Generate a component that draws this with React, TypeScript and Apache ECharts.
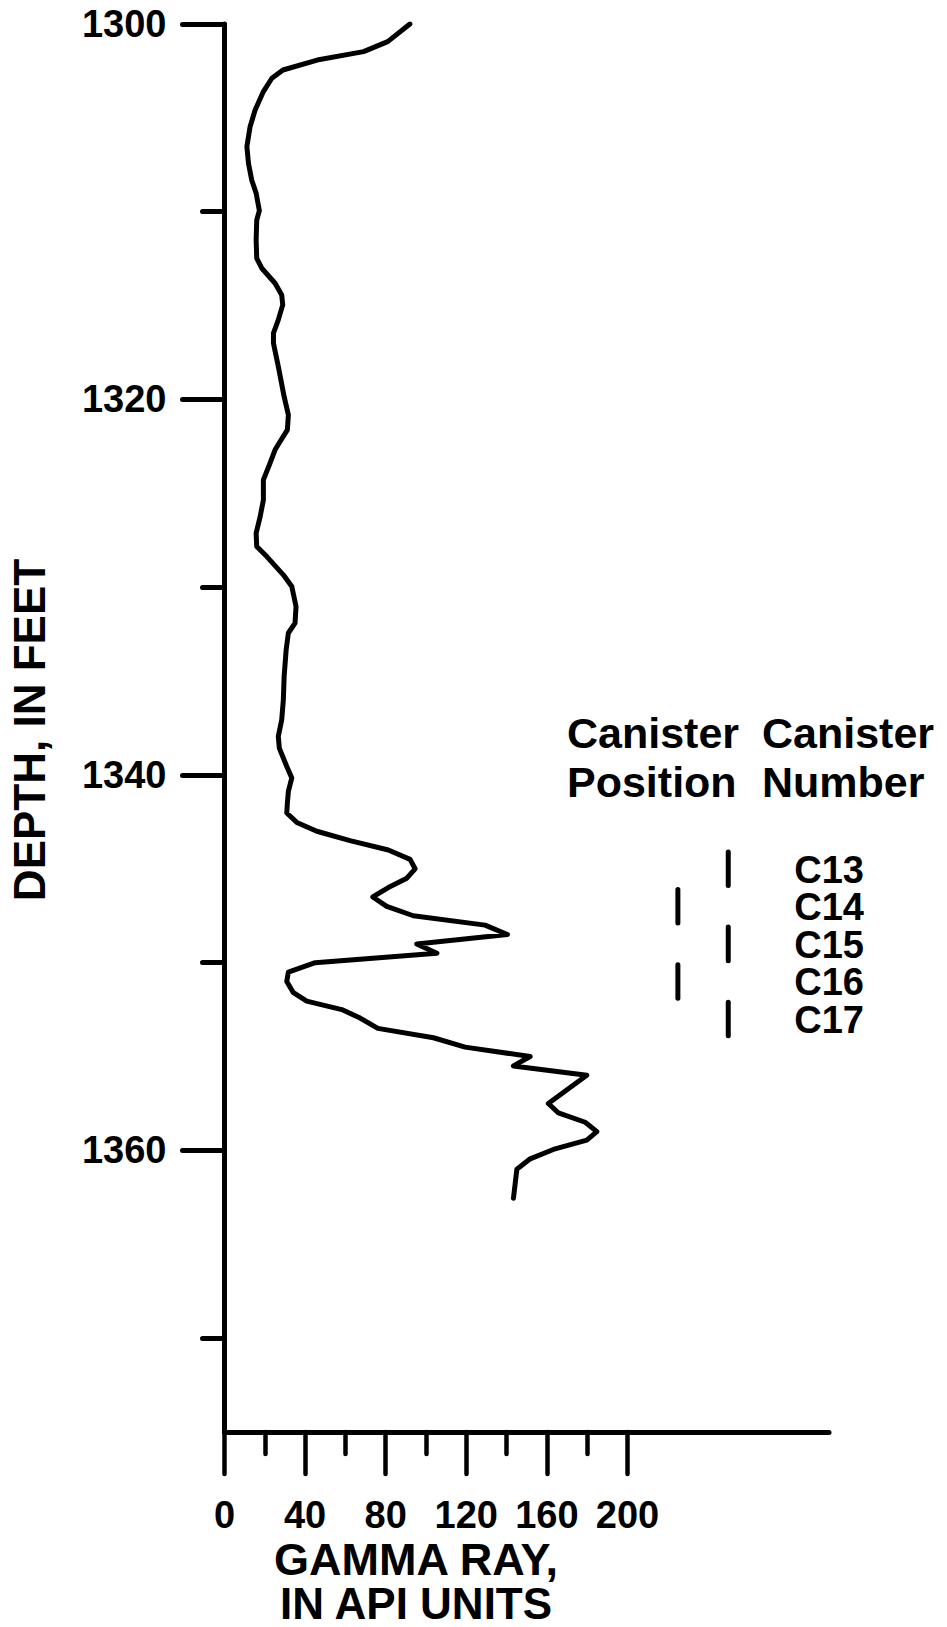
import React, { useEffect, useRef } from "react";
import * as echarts from "echarts";

// ---- Data ----
const gammaRay: number[] = [
  92, 81, 69, 46, 29, 23.5, 19.3, 15.2, 12.7, 11.1, 11.9, 13.5, 15.7, 17.3, 16.0, 15.7, 16.0,
  18.5, 25.1, 28.4, 28.9, 26.7, 24.3, 24.3, 26.7, 29.6, 31.7, 31.2, 27.6, 25.1, 22.6, 19.3,
  19.3, 17.7, 15.7, 16.0, 21.0, 29.2, 33.4, 35.5, 35.0, 31.7, 30.6, 29.6, 29.2, 28.4, 26.7,
  27.2, 30.9, 33.4, 31.7, 31.2, 30.9, 35.9, 45.8, 62.3, 81.3, 92.1, 94.6, 90.5, 81.3, 73.6,
  80.5, 93.7, 129.3, 140.4, 95.4, 105.4, 45.0, 31.7, 30.9, 34.2, 40.8, 58.2, 67.3, 76.1,
  103.7, 119.4, 151.7, 143.4, 179.8, 160.7, 165.7, 179.0, 184.8, 179.8, 163.2, 151.7, 145.1,
  143.4,
];
const depthFeet: number[] = [
  1300.0, 1300.94, 1301.47, 1301.92, 1302.45, 1302.89, 1303.6, 1304.58, 1305.47, 1306.53,
  1307.42, 1308.31, 1309.01, 1309.94, 1310.44, 1311.5, 1312.48, 1313.01, 1313.81, 1314.43,
  1314.96, 1315.76, 1316.47, 1317.0, 1318.25, 1319.85, 1320.82, 1321.62, 1322.24, 1322.68,
  1323.39, 1324.28, 1325.35, 1326.24, 1327.12, 1327.83, 1328.37, 1329.34, 1329.96, 1331.03,
  1331.91, 1332.44, 1333.33, 1334.75, 1336.0, 1337.06, 1337.95, 1338.57, 1339.55, 1340.16,
  1340.88, 1341.5, 1342.03, 1342.53, 1343.0, 1343.5, 1344.0, 1344.5, 1345.0, 1345.5, 1346.0,
  1346.5, 1347.0, 1347.5, 1348.0, 1348.5, 1349.0, 1349.5, 1350.0, 1350.5, 1351.0, 1351.6,
  1352.05, 1352.5, 1352.95, 1353.5, 1354.0, 1354.5, 1355.0, 1355.5, 1356.0, 1357.5, 1358.0,
  1358.5, 1359.0, 1359.45, 1359.95, 1360.45, 1361.0, 1362.55,
];

const canisterNames: string[] = ["C13", "C14", "C15", "C16", "C17"];
const canisterTop: number[] = [1344, 1346, 1348, 1350, 1352];
const canisterBottom: number[] = [1346, 1348, 1350, 1352, 1354];
const canisterPosition: number[] = [250, 225, 250, 225, 250];

const depthMajorTicks: number[] = [1300, 1320, 1340, 1360];
const depthMinorTicks: number[] = [1310, 1330, 1350, 1370];
const gammaMajorTicks: number[] = [0, 40, 80, 120, 160, 200];
const gammaMinorTicks: number[] = [20, 60, 100, 140, 180];

const DEPTH_MIN = 1300;
const DEPTH_MAX = 1375;
const GAMMA_MIN = 0;
const GAMMA_MAX = 300;

const FONT = "'Liberation Sans', Arial, Helvetica, sans-serif";

export default function App() {
  const ref = useRef<HTMLDivElement>(null);

  useEffect(() => {
    if (!ref.current) return;
    const chart = echarts.init(ref.current, undefined, { renderer: "svg" });

    const curve = gammaRay.map((g, i) => [g, depthFeet[i]]);
    const canisters = canisterNames.map((n, i) => [
      canisterPosition[i],
      canisterTop[i],
      canisterBottom[i],
    ]);

    const labelMarkX = Math.max(...canisterPosition);

    const headerStyle = (text: string) => ({
      text,
      fill: "#000",
      font: `bold 43px ${FONT}`,
      textAlign: "left",
      textVerticalAlign: "middle",
      lineHeight: 40,
    });

    const option: any = {
      animation: false,
      backgroundColor: "#ffffff",
      grid: { left: 224.5, top: 24, width: 604.5, height: 1408, containLabel: false },
      xAxis: [
        {
          type: "value",
          position: "bottom",
          min: GAMMA_MIN,
          max: GAMMA_MAX,
          interval: 20,
          axisLine: { show: true, lineStyle: { color: "#000", width: 5, cap: "round" } },
          axisTick: {
            show: true,
            customValues: gammaMajorTicks,
            length: 42,
            lineStyle: { color: "#000", width: 4.5, cap: "round" },
          },
          axisLabel: {
            show: true,
            customValues: gammaMajorTicks,
            formatter: (v: number) => String(v),
            margin: 68,
            lineHeight: 30,
            color: "#000",
            fontFamily: FONT,
            fontWeight: "bold",
            fontSize: 38,
          },
          splitLine: { show: false },
        },
        {
          type: "value",
          position: "bottom",
          min: GAMMA_MIN,
          max: GAMMA_MAX,
          interval: 20,
          axisLine: { show: false },
          axisTick: {
            show: true,
            customValues: gammaMinorTicks,
            length: 22,
            lineStyle: { color: "#000", width: 4.5, cap: "round" },
          },
          axisLabel: { show: false },
          splitLine: { show: false },
        },
      ],
      yAxis: [
        {
          type: "value",
          position: "left",
          inverse: true,
          min: DEPTH_MIN,
          max: DEPTH_MAX,
          interval: 20,
          axisLine: { show: true, lineStyle: { color: "#000", width: 5, cap: "round" } },
          axisTick: {
            show: true,
            customValues: depthMajorTicks,
            length: 42,
            lineStyle: { color: "#000", width: 5, cap: "round" },
          },
          axisLabel: {
            show: true,
            customValues: depthMajorTicks,
            formatter: (v: number) => String(v),
            margin: 58,
            color: "#000",
            fontFamily: FONT,
            fontWeight: "bold",
            fontSize: 38,
          },
          splitLine: { show: false },
        },
        {
          type: "value",
          position: "left",
          inverse: true,
          min: DEPTH_MIN,
          max: DEPTH_MAX,
          interval: 10,
          axisLine: { show: false },
          axisTick: {
            show: true,
            customValues: depthMinorTicks,
            length: 22,
            lineStyle: { color: "#000", width: 5, cap: "round" },
          },
          axisLabel: { show: false },
          splitLine: { show: false },
        },
      ],
      series: [
        {
          type: "line",
          xAxisIndex: 0,
          yAxisIndex: 0,
          data: curve,
          showSymbol: false,
          symbol: "none",
          smooth: false,
          lineStyle: { color: "#000", width: 5, cap: "round", join: "round" },
          z: 5,
        },
        {
          type: "custom",
          xAxisIndex: 0,
          yAxisIndex: 0,
          data: canisters,
          renderItem: (params: any, api: any) => {
            const x = api.value(0);
            const p0 = api.coord([x, api.value(1)]);
            const p1 = api.coord([x, api.value(2)]);
            const mid = api.coord([labelMarkX, (api.value(1) + api.value(2)) / 2]);
            const name = canisterNames[params.dataIndex];
            return {
              type: "group",
              children: [
                {
                  type: "line",
                  shape: { x1: p0[0], y1: p0[1] + 2, x2: p1[0], y2: p1[1] - 2 },
                  style: { stroke: "#000", lineWidth: 5, lineCap: "round" },
                },
                {
                  type: "text",
                  x: mid[0] + 66,
                  y: mid[1] + 1,
                  style: {
                    text: name,
                    fill: "#000",
                    font: `bold 38px ${FONT}`,
                    textAlign: "left",
                    textVerticalAlign: "middle",
                    lineHeight: 30,
                  },
                },
              ],
            };
          },
          z: 5,
        },
      ],
      graphic: [
        {
          type: "text",
          x: 29,
          y: 730,
          rotation: Math.PI / 2,
          style: {
            text: "DEPTH, IN FEET",
            fill: "#000",
            font: `bold 44px ${FONT}`,
            textAlign: "center",
            textVerticalAlign: "middle",
            lineHeight: 40,
          },
        },
        {
          type: "text",
          x: 416,
          y: 1559,
          style: {
            text: "GAMMA RAY,",
            fill: "#000",
            font: `bold 45px ${FONT}`,
            textAlign: "center",
            textVerticalAlign: "middle",
            lineHeight: 34,
          },
        },
        {
          type: "text",
          x: 416,
          y: 1603,
          style: {
            text: "IN API UNITS",
            fill: "#000",
            font: `bold 44px ${FONT}`,
            textAlign: "center",
            textVerticalAlign: "middle",
            lineHeight: 34,
          },
        },
        { type: "text", x: 567, y: 733, style: headerStyle("Canister") },
        { type: "text", x: 567, y: 782, style: headerStyle("Position") },
        { type: "text", x: 762, y: 733, style: headerStyle("Canister") },
        { type: "text", x: 762, y: 782, style: headerStyle("Number") },
      ],
    };

    chart.setOption(option);
    return () => {
      chart.dispose();
    };
  }, []);

  return (
    <div
      ref={ref}
      style={{ position: "absolute", left: 0, top: 0, width: 947, height: 1627, background: "#fff" }}
    />
  );
}
